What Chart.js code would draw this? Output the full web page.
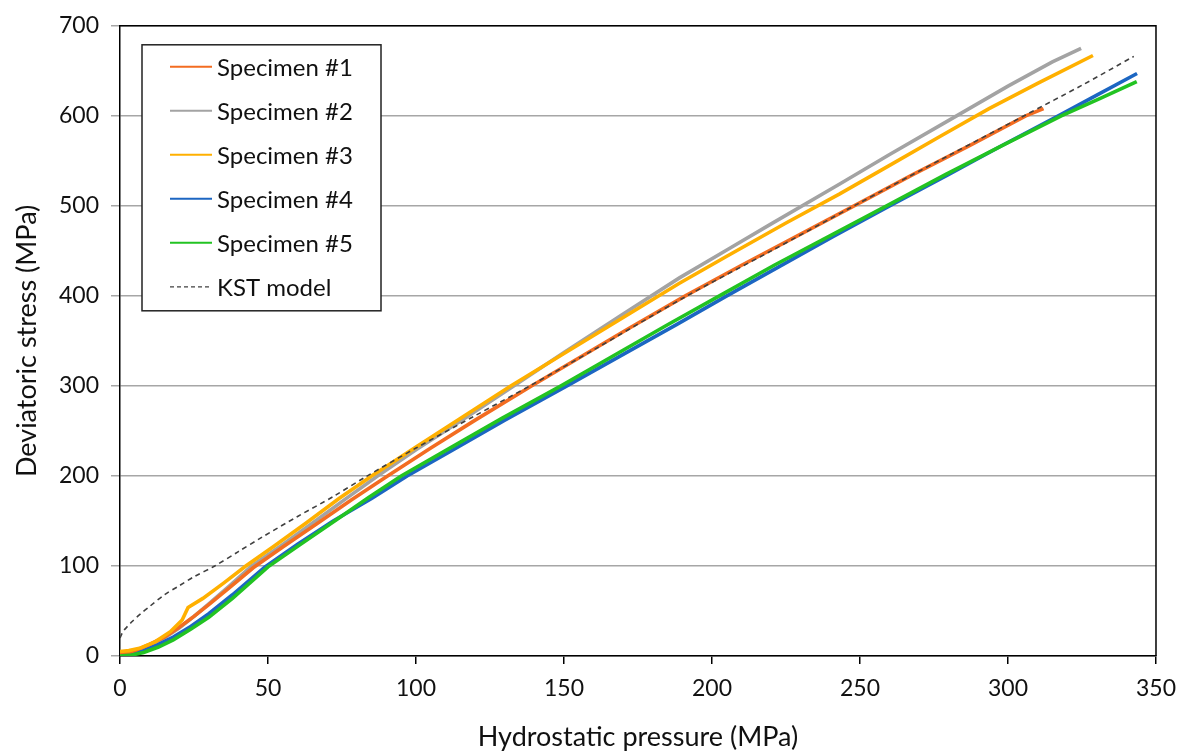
<!DOCTYPE html>
<html><head><meta charset="utf-8">
<script src="https://cdn.jsdelivr.net/npm/chart.js@4/dist/chart.umd.min.js"></script>
<style>html,body{margin:0;padding:0;background:#fff;}canvas{display:block;}</style>
</head><body>
<canvas id="c" width="1187" height="753"></canvas>
<script>
// ---- data ----
const seriesNames = ['Specimen #1','Specimen #2','Specimen #3','Specimen #4','Specimen #5','KST model'];

const spec1X = [0,5,10,15,20,25,30,37,45,55,67,78,90,105,120,139,155,172,191,210,229,248,268,287,306,312];
const spec1Y = [1,6,13,21,32,44,57,76,98,121,148,173,199,231,262,300,331,364,400,434,467,500,535,567,600,608];

const spec2X = [0,5,10,15,20,25,30,37,44.5,55,66,76,87,100,116,133,150,170,189,205,220,243,260,280,300,315,324.7];
const spec2Y = [0,5,12,20,31,44,58,78,100,124,150,174,200,229,263,300,337,380,420,451,480,524,557,595,633,660,675];

const spec3X = [0,3,7,12,17,21,23,28,35,42.5,52,63,74,85,100,116,132,150,170,189,205,225,243,260,277,293.6,310,328.7];
const spec3Y = [5,6,9,16,27,40,54,64,81,100,122,148,175,200,232,266,300,336,376,414,444,481,513,545,577,608,636,667];

const spec4X = [0,4,8,13,18,24,30,38,49,60,72,85,97,112,130,151,170,188,205,223,241,260,280,298,317,330,343.6];
const spec4Y = [0,2,6,13,21,33,47,68,99,124,150,175,200,228,262,300,335,368,400,433,466,500,535,567,600,623,647];

const spec5X = [0,4,8,13,18,24,30,38,50,61,73,84,95,111,129,149,167,185,202.5,221,240,259,279,298,318,331,343.5];
const spec5Y = [0,1,4,10,18,30,43,64,99,124,151,176,200,230,264,300,334,368,400,434,467,500,535,567,600,619,638];

const kstX = [0,1,2,4,7,10,15,20,25,32,40,48,60,72,83,100,120,139,160,191,220,248,280,306,325,342.5];
const kstY = [20,27,31,38,47,55,68,78,88,100,116,132,155,177,199,231,267,301,340,399,450,500,556,601,634,666];

const xTicksMin = 0, xTicksMax = 350, xStep = 50;
const yTicksMin = 0, yTicksMax = 700, yStep = 100;
const xTitle = 'Hydrostatic pressure (MPa)';
const yTitle = 'Deviatoric stress (MPa)';

// ---- styles ----
const colors = ['#F36C21','#A3A3A3','#FFB000','#1C66C2','#22C322','#404040'];
const FONT = 'Lato';
Chart.defaults.font.family = FONT;

function pts(xs, ys){ return xs.map((x,i)=>({x:x, y:ys[i]})); }
const allX = [spec1X,spec2X,spec3X,spec4X,spec5X,kstX];
const allY = [spec1Y,spec2Y,spec3Y,spec4Y,spec5Y,kstY];
const drawOrder = [3,5,2,4,1,0];

const datasets = seriesNames.map((name,i)=>({
  label: name,
  data: pts(allX[i], allY[i]),
  borderColor: colors[i],
  backgroundColor: colors[i],
  borderWidth: i===5 ? 1.6 : 3.6,
  borderDash: i===5 ? [5,4] : [],
  pointRadius: 0,
  fill: false,
  tension: i===5 ? 0.3 : 0,
  order: drawOrder[i]
}));

const framePlugin = {
  id: 'frameLegend',
  afterDraw(chart){
    const {ctx, chartArea:a} = chart;
    ctx.save();
    ctx.strokeStyle = '#000';
    ctx.lineWidth = 1.5;
    ctx.beginPath();
    ctx.moveTo(a.left, a.top); ctx.lineTo(a.right, a.top); ctx.lineTo(a.right, a.bottom);
    ctx.stroke();
    const lx = a.left + 22, ly = a.top + 19, lw = 239, lh = 266;
    ctx.fillStyle = '#fff';
    ctx.fillRect(lx, ly, lw, lh);
    ctx.lineWidth = 1.5;
    ctx.strokeStyle = '#222';
    ctx.strokeRect(lx, ly, lw, lh);
    ctx.font = '24px ' + FONT;
    ctx.textBaseline = 'middle';
    ctx.textAlign = 'left';
    seriesNames.forEach((name, i) => {
      const cy = ly + 22 + i*44;
      ctx.beginPath();
      ctx.strokeStyle = colors[i];
      ctx.lineWidth = i===5 ? 1.3 : 2;
      ctx.setLineDash(i===5 ? [4,3] : []);
      ctx.moveTo(lx + 28, cy); ctx.lineTo(lx + 70, cy);
      ctx.stroke();
      ctx.setLineDash([]);
      ctx.fillStyle = '#111';
      ctx.fillText(name, lx + 75, cy + 1);
    });
    ctx.restore();
  }
};

new Chart(document.getElementById('c'), {
  type: 'line',
  data: { datasets },
  options: {
    responsive: false,
    animation: false,
    layout: { padding: { top: 18, right: 30, left: 0, bottom: 0 } },
    plugins: { legend: { display: false }, tooltip: { enabled: false } },
    scales: {
      x: {
        type: 'linear', min: xTicksMin, max: xTicksMax,
        ticks: { stepSize: xStep, color: '#111', font: { size: 23 }, padding: 11, maxRotation: 0 },
        grid: { drawOnChartArea: false, drawTicks: true, color: '#000', tickLength: 8, lineWidth: 1.5 },
        border: { color: '#000', width: 1.5 },
        title: { display: true, text: xTitle, color: '#111', font: { size: 27 }, padding: { top: 0, bottom: 0 } },
        afterFit(s){ s.height = 97; }
      },
      y: {
        type: 'linear', min: yTicksMin, max: yTicksMax,
        ticks: { stepSize: yStep, color: '#111', font: { size: 23 }, padding: 12 },
        grid: { color: '#A6A6A6', lineWidth: 1.5, tickLength: 9 },
        border: { color: '#000', width: 1.5 },
        title: { display: true, text: yTitle, color: '#111', font: { size: 27 }, padding: { top: 11, bottom: 0 } },
        afterFit(s){ s.width = 120; }
      }
    }
  },
  plugins: [framePlugin]
});
</script>
</body></html>
